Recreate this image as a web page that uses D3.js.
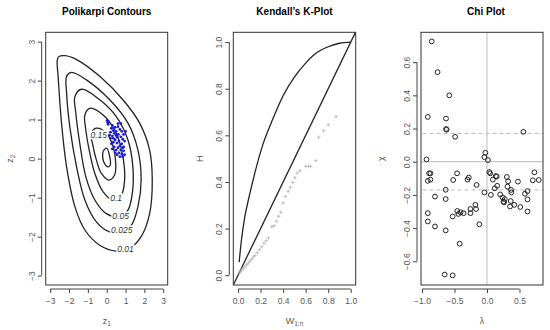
<!DOCTYPE html>
<html>
<head>
<meta charset="utf-8">
<script src="https://cdn.jsdelivr.net/npm/d3@7"></script>
<style>
body { margin: 0; background: #fff; }
svg { font-family: "Liberation Sans", Arial, sans-serif; }
.tick text { font-size: 8.5px; fill: #555; }
.tick line { stroke: #444; }
</style>
</head>
<body>
<svg id="chart" width="550" height="330"></svg>
<script>
// --- Polikarpi contours (z1, z2) ---
var contour001 = [[-2.56,2.61],[-2.22,2.64],[-1.6,2.54],[-0.37,2.11],[0.86,1.51],[1.75,0.91],[2.28,0.22],
    [2.42,-0.55],[2.28,-1.41],[1.83,-2.0],[1.22,-2.3],[0.51,-2.37],[-0.37,-2.22],[-1.16,-1.83],[-1.69,-1.23],
    [-2.13,-0.21],[-2.4,0.91],[-2.58,2.11],[-2.63,2.5]];
var contour0025 = [[-2.13,2.11],[-1.87,2.21],[-1.08,2.02],[0.16,1.51],[1.13,0.91],[1.66,0.22],[1.83,-0.55],
    [1.66,-1.23],[1.31,-1.71],[0.86,-1.88],[0.16,-1.88],[-0.55,-1.62],[-1.16,-1.06],[-1.6,-0.21],[-1.96,0.82],
    [-2.13,1.68]];
var contour005 = [[-1.69,1.59],[-1.34,1.78],[-0.37,1.51],[0.51,1.08],[1.13,0.48],[1.39,-0.21],[1.36,-0.89],
    [1.13,-1.32],[0.69,-1.49],[-0.02,-1.41],[-0.63,-1.06],[-1.11,-0.46],[-1.43,0.39],[-1.64,1.17]];
var contour01 = [[-1.16,1.12],[-0.9,1.29],[-0.19,1.12],[0.51,0.65],[0.86,0.05],[0.95,-0.55],[0.78,-0.93],
    [0.34,-1.06],[-0.19,-0.85],[-0.63,-0.38],[-0.93,0.22],[-1.11,0.74]];
var contour015 = [[-0.81,0.65],[-0.55,0.78],[-0.02,0.65],[0.34,0.31],[0.48,-0.12],[0.42,-0.42],[0.12,-0.55],
    [-0.28,-0.38],[-0.55,-0.03],[-0.72,0.31]];
var contour02 = [[-0.19,0.18],[0,0.27],[0.16,0.05],[0.19,-0.16],[0.07,-0.21],[-0.16,-0.08]];
var contourLabels = ["0.15","0.1","0.05","0.025","0.01"];
var labelPoints = [[-0.42,0.61],[0.5,-1.02],[0.74,-1.47],[0.8,-1.84],[1.0,-2.33]];

// blue sample points
var sampleZ1 = [0.02,0.05,0.1,0.08,0.3,0.25,0.45,0.6,0.7,0.35,0.5,0.8,0.2,0.4,0.62,0.9,0.3,0.55,0.75,0.85,
    0.2,0.45,0.65,0.95,0.35,0.55,0.8,0.25,0.7,0.9,0.4,0.6,0.5,0.75,0.9,0.65,0.8,0.55,0.95,0.7,0.85,0.3,0.45,
    0.6,0.75,0.15,0.5,1.0,0.35,0.85];
var sampleZ2 = [0.98,0.93,0.95,0.88,0.85,0.78,0.8,0.82,0.75,0.72,0.7,0.7,0.68,0.65,0.62,0.62,0.58,0.55,0.56,0.5,
    0.52,0.48,0.45,0.45,0.42,0.4,0.38,0.38,0.33,0.3,0.3,0.28,0.22,0.22,0.2,0.15,0.12,0.1,0.1,0.05,0.05,0.25,0.15,
    0.9,0.9,0.6,0.6,0.7,0.52,0.28];

// --- Kendall's K-plot ---
var kCurveW = [0.01,0.03,0.06,0.1,0.15,0.22,0.3,0.4,0.5,0.6,0.7,0.8,0.9,1.0];
var kCurveH = [0.056,0.15,0.25,0.34,0.44,0.56,0.66,0.77,0.85,0.91,0.955,0.98,0.995,1.0];
var kW = [0.01,0.02,0.03,0.045,0.06,0.075,0.09,0.105,0.12,0.135,0.15,0.17,0.19,0.21,0.23,0.25,0.27,0.3,0.32,
    0.34,0.36,0.38,0.4,0.42,0.445,0.465,0.485,0.505,0.525,0.55,0.6,0.625,0.645,0.69,0.715,0.76,0.8,0.87];
var kH = [0.008,0.015,0.023,0.028,0.036,0.045,0.052,0.06,0.068,0.078,0.085,0.097,0.11,0.122,0.138,0.148,0.16,
    0.208,0.212,0.232,0.253,0.27,0.31,0.338,0.36,0.377,0.398,0.418,0.438,0.448,0.467,0.467,0.467,0.492,0.592,
    0.62,0.645,0.68];

// --- Chi plot ---
var chiLambda = [-0.85,-0.76,-0.58,-0.91,-0.63,-0.63,-0.62,-0.49,0.56,-0.93,-0.025,-0.04,0.015,-0.89,-0.87,
    -0.91,-0.87,-0.52,-0.46,-0.3,-0.28,-0.16,0.036,0.05,0.09,0.137,0.15,0.12,0.157,0.305,0.325,0.315,0.37,0.375,
    0.477,0.73,0.705,0.797,0.584,0.624,0.624,0.624,0.513,0.42,0.355,0.365,0.274,0.264,0.254,0.203,0.24,0.06,
    -0.04,-0.8,-0.635,-0.635,-0.91,-0.91,-0.8,-0.635,-0.528,-0.457,-0.44,-0.406,-0.36,-0.254,-0.254,-0.178,
    -0.168,-0.117,-0.42,-0.65,-0.528];
var chiValues = [0.725,0.54,0.4,0.27,0.26,0.197,0.193,0.15,0.18,0.014,0.054,0.028,0.01,-0.07,-0.07,
    -0.115,-0.108,-0.11,-0.07,-0.108,-0.095,-0.14,-0.062,-0.07,-0.108,-0.086,-0.09,-0.16,-0.145,-0.092,-0.118,
    -0.15,-0.17,-0.185,-0.12,-0.064,-0.112,-0.11,-0.193,-0.177,-0.227,-0.3,-0.273,-0.26,-0.27,-0.237,-0.225,
    -0.245,-0.24,-0.197,-0.215,-0.2,-0.185,-0.21,-0.169,-0.225,-0.31,-0.36,-0.39,-0.414,-0.33,-0.297,-0.315,
    -0.305,-0.31,-0.31,-0.285,-0.26,-0.285,-0.377,-0.494,-0.68,-0.685];
var chiBand = 0.17;

var svg = d3.select("#chart");
var TOP = 32.3, BOTTOM = 285;

// draws box, axes, titles; returns scales and a clipped group
function panel(cfg) {
    var x = d3.scaleLinear().domain(cfg.xDomain).range([cfg.left, cfg.right]);
    var y = d3.scaleLinear().domain(cfg.yDomain).range([BOTTOM, TOP]);

    svg.append("clipPath").attr("id", cfg.id)
        .append("rect")
        .attr("x", cfg.left).attr("y", TOP)
        .attr("width", cfg.right - cfg.left).attr("height", BOTTOM - TOP);
    var g = svg.append("g").attr("clip-path", "url(#" + cfg.id + ")");

    var gx = svg.append("g")
        .attr("transform", "translate(0," + (BOTTOM + 4) + ")")
        .call(d3.axisBottom(x).tickValues(cfg.xTicks).tickFormat(cfg.xFmt).tickSize(4).tickPadding(5));
    gx.attr("font-size", null).attr("font-family", null);
    gx.select(".domain").remove();
    gx.append("line")
        .attr("x1", x(cfg.xTicks[0])).attr("x2", x(cfg.xTicks[cfg.xTicks.length - 1]))
        .attr("stroke", "#444");

    var gy = svg.append("g")
        .attr("transform", "translate(" + (cfg.left - 4) + ",0)")
        .call(d3.axisLeft(y).tickValues(cfg.yTicks).tickFormat(cfg.yFmt).tickSize(4));
    gy.attr("font-size", null).attr("font-family", null);
    gy.select(".domain").remove();
    gy.append("line")
        .attr("y1", y(cfg.yTicks[0])).attr("y2", y(cfg.yTicks[cfg.yTicks.length - 1]))
        .attr("stroke", "#444");
    gy.selectAll("text")
        .attr("transform", "rotate(-90)")
        .attr("x", 0).attr("y", -7).attr("dy", 0)
        .attr("text-anchor", "middle");

    svg.append("rect")
        .attr("x", cfg.left).attr("y", TOP)
        .attr("width", cfg.right - cfg.left).attr("height", BOTTOM - TOP)
        .attr("fill", "none").attr("stroke", "#333").attr("stroke-width", 1);

    svg.append("text")
        .attr("x", (cfg.left + cfg.right) / 2 + (cfg.titleShift || 0)).attr("y", 14.5)
        .attr("text-anchor", "middle")
        .attr("font-size", 10).attr("font-weight", "bold")
        .text(cfg.title);

    var xt = svg.append("text")
        .attr("x", (cfg.left + cfg.right) / 2).attr("y", 324)
        .attr("text-anchor", "middle").attr("font-size", 9).attr("fill", "#555")
        .text(cfg.xLabel[0]);
    if (cfg.xLabel[1]) xt.append("tspan").attr("font-size", 6.5).attr("dy", 2).text(cfg.xLabel[1]);

    var yt = svg.append("text")
        .attr("transform", "translate(" + cfg.yLabelX + "," + ((TOP + BOTTOM) / 2) + ") rotate(-90)")
        .attr("text-anchor", "middle").attr("font-size", 9).attr("fill", "#555")
        .text(cfg.yLabel[0]);
    if (cfg.yLabel[1]) yt.append("tspan").attr("font-size", 6.5).attr("dy", 2).text(cfg.yLabel[1]);

    return { x: x, y: y, g: g };
}

var intFmt = d3.format("d");
var oneFmt = d3.format(".1f");

// Panel 1
var p1 = panel({
    id: "clip1", left: 45.7, right: 167.7,
    xDomain: [-3.24, 3.24], yDomain: [-3.24, 3.24],
    xTicks: [-3, -2, -1, 0, 1, 2, 3], yTicks: [-3, -2, -1, 0, 1, 2, 3],
    xFmt: intFmt, yFmt: intFmt,
    title: "Polikarpi Contours", xLabel: ["z", "1"], yLabel: ["z", "2"], yLabelX: 13
});
var cLine = d3.line()
    .x(function(d) { return p1.x(d[0]); })
    .y(function(d) { return p1.y(d[1]); })
    .curve(d3.curveCatmullRomClosed.alpha(0.5));
[contour001, contour0025, contour005, contour01, contour015, contour02].forEach(function(c) {
    p1.g.append("path").attr("d", cLine(c))
        .attr("fill", "none").attr("stroke", "#222").attr("stroke-width", 1.3);
});
p1.g.selectAll(".clab").data(contourLabels).enter().append("text")
    .attr("x", function(d, i) { return p1.x(labelPoints[i][0]); })
    .attr("y", function(d, i) { return p1.y(labelPoints[i][1]); })
    .attr("dy", "0.35em").attr("text-anchor", "middle")
    .attr("font-size", 8.5).attr("font-style", "italic").attr("fill", "#333")
    .attr("stroke", "#fff").attr("stroke-width", 3).attr("paint-order", "stroke")
    .text(function(d) { return d; });
p1.g.selectAll(".pt").data(sampleZ1).enter().append("circle")
    .attr("cx", function(d) { return p1.x(d); })
    .attr("cy", function(d, i) { return p1.y(sampleZ2[i]); })
    .attr("r", 1.4).attr("fill", "#1a1ad6");

// Panel 2
var p2 = panel({
    id: "clip2", left: 233.3, right: 355.7,
    xDomain: [-0.042, 1.044], yDomain: [-0.042, 1.042],
    xTicks: [0, 0.2, 0.4, 0.6, 0.8, 1], yTicks: [0, 0.2, 0.4, 0.6, 0.8, 1],
    xFmt: oneFmt, yFmt: oneFmt,
    title: "Kendall\u2019s K-Plot", xLabel: ["W", "1:n"], yLabel: ["H"], yLabelX: 203
});
p2.g.append("path")
    .attr("d", d3.line()([[p2.x(-0.1), p2.y(-0.1)], [p2.x(1.1), p2.y(1.1)]]))
    .attr("stroke", "#222").attr("stroke-width", 1.3);
p2.g.append("path")
    .attr("d", d3.line()
        .x(function(d) { return p2.x(d); })
        .y(function(d, i) { return p2.y(kCurveH[i]); })
        .curve(d3.curveMonotoneX)(kCurveW))
    .attr("fill", "none").attr("stroke", "#222").attr("stroke-width", 1.3);
p2.g.selectAll(".kp").data(kW).enter().append("path")
    .attr("transform", function(d, i) { return "translate(" + p2.x(d) + "," + p2.y(kH[i]) + ")"; })
    .attr("d", d3.symbol(d3.symbolPlus, 5))
    .attr("fill", "none").attr("stroke", "#aaa").attr("stroke-width", 0.7);

// Panel 3
var p3 = panel({
    id: "clip3", left: 421, right: 543,
    xDomain: [-1.015, 0.862], yDomain: [-0.743, 0.78],
    xTicks: [-1, -0.5, 0, 0.5], yTicks: [-0.6, -0.4, -0.2, 0, 0.2, 0.4, 0.6],
    xFmt: oneFmt, yFmt: oneFmt, titleShift: 4,
    title: "Chi Plot", xLabel: ["\u03bb"], yLabel: ["\u03c7"], yLabelX: 384
});
p3.g.append("line")
    .attr("x1", p3.x(0)).attr("x2", p3.x(0)).attr("y1", TOP).attr("y2", BOTTOM)
    .attr("stroke", "#bbb").attr("stroke-width", 1);
p3.g.append("line")
    .attr("x1", p3.x(-1.1)).attr("x2", p3.x(1)).attr("y1", p3.y(0)).attr("y2", p3.y(0))
    .attr("stroke", "#bbb").attr("stroke-width", 1);
[chiBand, -chiBand].forEach(function(b) {
    p3.g.append("line")
        .attr("x1", p3.x(-1.1)).attr("x2", p3.x(1)).attr("y1", p3.y(b)).attr("y2", p3.y(b))
        .attr("stroke", "#bbb").attr("stroke-width", 1).attr("stroke-dasharray", "4,3");
});
p3.g.selectAll(".cp").data(chiLambda).enter().append("circle")
    .attr("cx", function(d) { return p3.x(d); })
    .attr("cy", function(d, i) { return p3.y(chiValues[i]); })
    .attr("r", 2.4).attr("fill", "none").attr("stroke", "#222").attr("stroke-width", 1);
</script>
</body>
</html>
